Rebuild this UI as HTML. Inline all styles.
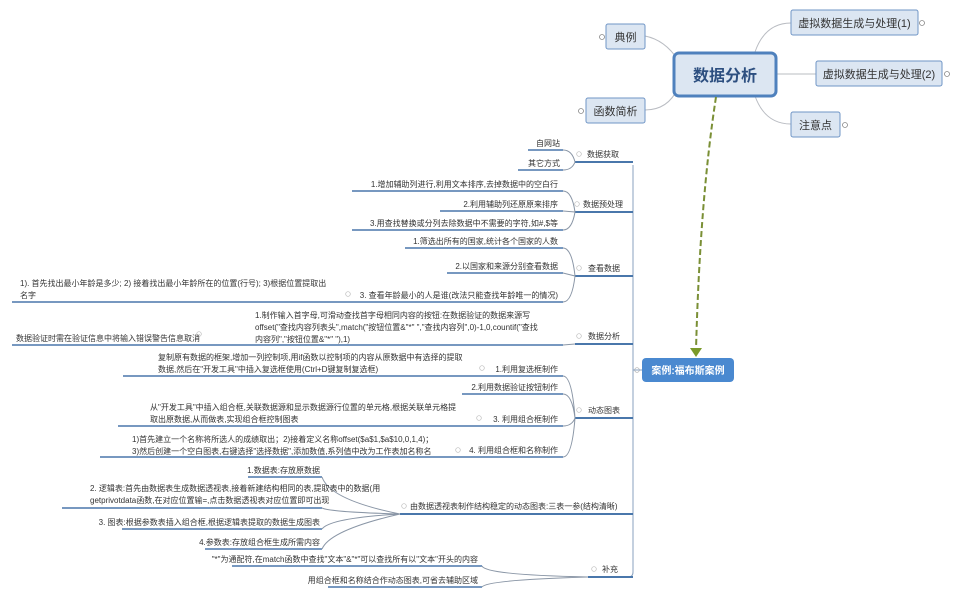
<!DOCTYPE html>
<html><head><meta charset="utf-8"><style>
html,body{margin:0;padding:0;background:#fff;width:960px;height:599px;overflow:hidden}
svg text{font-family:"Liberation Sans","Noto Sans CJK SC",sans-serif;fill:#333;font-size:8px}
</style></head><body>
<svg width="960" height="599" xmlns="http://www.w3.org/2000/svg">
<g fill="none" stroke="#b9bcc2" stroke-width="1">
<path d="M678 60 Q665 40 645 36"/>
<path d="M678 88 Q668 110 645 110"/>
<path d="M755 52 Q765 23 791 23"/>
<path d="M776 74 L816 74"/>
<path d="M755 96 Q765 124 791 124"/>
</g>
<rect x="674" y="53" width="102" height="43" rx="5" fill="#dce6f2" stroke="#4f81bd" stroke-width="3"/>
<text x="725" y="81" text-anchor="middle" style="font-size:16px;font-weight:bold;fill:#2d4f80">数据分析</text>
<rect x="606" y="24" width="39" height="25" rx="2" fill="#dce6f2" stroke="#6f95c6"/>
<text x="625.5" y="41" text-anchor="middle" style="font-size:11px">典例</text>
<rect x="586" y="98" width="59" height="25" rx="2" fill="#dce6f2" stroke="#6f95c6"/>
<text x="615.5" y="115" text-anchor="middle" style="font-size:11px">函数简析</text>
<rect x="791" y="10" width="127" height="25" rx="2" fill="#dce6f2" stroke="#6f95c6"/>
<text x="854.5" y="27" text-anchor="middle" style="font-size:11px">虚拟数据生成与处理(1)</text>
<rect x="816" y="61" width="126" height="25" rx="2" fill="#dce6f2" stroke="#6f95c6"/>
<text x="879" y="78" text-anchor="middle" style="font-size:11px">虚拟数据生成与处理(2)</text>
<rect x="791" y="112" width="49" height="25" rx="2" fill="#dce6f2" stroke="#6f95c6"/>
<text x="815.5" y="129" text-anchor="middle" style="font-size:11px">注意点</text>
<g fill="#fff" stroke="#888" stroke-width="0.8">
<circle cx="602" cy="37" r="2.5"/><circle cx="581" cy="111" r="2.5"/>
<circle cx="922" cy="23" r="2.5"/><circle cx="947" cy="74" r="2.5"/><circle cx="845" cy="125" r="2.5"/>
</g>
<path d="M716 97 Q700 200 696 350" fill="none" stroke="#7a8f35" stroke-width="2" stroke-dasharray="6,3"/>
<polygon points="690,348 702,348 696,357" fill="#7a9a2a"/>
<rect x="642" y="358" width="92" height="24" rx="4" fill="#4a89d0"/>
<text x="688" y="374" text-anchor="middle" style="font-size:10px;font-weight:bold;fill:#fff">案例:福布斯案例</text>
<circle cx="637" cy="370" r="2.3" fill="#fff" stroke="#aaa" stroke-width="0.7"/>
<path d="M633 165 L633 572 Q633 577 628 577 M633 370 L642 370" fill="none" stroke="#8aa2bf" stroke-width="1"/>
<g stroke="#4a77ab" stroke-width="2">
<line x1="575" y1="162" x2="633" y2="162"/>
<line x1="575" y1="212" x2="633" y2="212"/>
<line x1="575" y1="276" x2="633" y2="276"/>
<line x1="575" y1="344" x2="633" y2="344"/>
<line x1="575" y1="418" x2="633" y2="418"/>
<line x1="400" y1="514" x2="633" y2="514"/>
<line x1="588" y1="577" x2="633" y2="577"/>
</g>
<text x="587" y="157">数据获取</text>
<text x="583" y="207">数据预处理</text>
<text x="588" y="271">查看数据</text>
<text x="588" y="339">数据分析</text>
<text x="588" y="413">动态图表</text>
<text x="410" y="509">由数据透视表制作结构稳定的动态图表:三表一参(结构清晰)</text>
<text x="602" y="572">补充</text>
<g stroke="#4a77ab" stroke-width="1.5">
<line x1="528" y1="150" x2="563" y2="150"/>
<line x1="518" y1="170" x2="563" y2="170"/>
<line x1="352" y1="191" x2="563" y2="191"/>
<line x1="440" y1="211" x2="563" y2="211"/>
<line x1="352" y1="230" x2="563" y2="230"/>
<line x1="405" y1="248" x2="563" y2="248"/>
<line x1="447" y1="273" x2="563" y2="273"/>
<line x1="12" y1="302" x2="563" y2="302"/>
<line x1="12" y1="345" x2="563" y2="345"/>
<line x1="123" y1="376" x2="563" y2="376"/>
<line x1="462" y1="394" x2="563" y2="394"/>
<line x1="118" y1="426" x2="563" y2="426"/>
<line x1="100" y1="457" x2="563" y2="457"/>
<line x1="248" y1="477" x2="322" y2="477"/>
<line x1="62" y1="508" x2="322" y2="508"/>
<line x1="122" y1="529" x2="322" y2="529"/>
<line x1="205" y1="549" x2="322" y2="549"/>
<line x1="232" y1="566" x2="482" y2="566"/>
<line x1="328" y1="587" x2="482" y2="587"/>
</g>
<g fill="none" stroke="#8a96a6" stroke-width="1">
<path d="M575 162 Q572 150 563 150 M575 162 Q572 170 563 170"/>
<path d="M575 212 Q572 191 563 191 M575 212 L563 211 M575 212 Q572 230 563 230"/>
<path d="M575 276 Q572 248 563 248 M575 276 L563 273 M575 276 Q572 302 563 302"/>
<path d="M575 344 L563 345"/>
<path d="M575 418 Q572 376 563 376 M575 418 Q572 394 563 394 M575 418 Q572 426 563 426 M575 418 Q572 457 563 457"/>
<path d="M400 514 Q330 500 322 477 M400 514 Q330 512 322 508 M400 514 Q330 518 322 529 M400 514 Q330 530 322 549"/>
<path d="M588 577 Q486 575 482 566 M588 577 Q486 580 482 587"/>
</g>
<g fill="#fff" stroke="#bbb" stroke-width="0.7">
<circle cx="579" cy="154" r="2.3"/><circle cx="577" cy="204" r="2.3"/><circle cx="579" cy="268" r="2.3"/>
<circle cx="579" cy="336" r="2.3"/><circle cx="579" cy="410" r="2.3"/><circle cx="404" cy="506" r="2.3"/>
<circle cx="594" cy="569" r="2.3"/><circle cx="348" cy="294" r="2.3"/><circle cx="199" cy="334" r="2.3"/>
<circle cx="482" cy="368" r="2.3"/><circle cx="479" cy="418" r="2.3"/><circle cx="458" cy="450" r="2.3"/>
</g>
<g text-anchor="end">
<text x="560" y="146">自网站</text>
<text x="560" y="166">其它方式</text>
<text x="558" y="187">1.增加辅助列进行,利用文本排序,去掉数据中的空白行</text>
<text x="558" y="207">2.利用辅助列还原原来排序</text>
<text x="558" y="226">3.用查找替换或分列去除数据中不需要的字符,如#,$等</text>
<text x="558" y="244">1.筛选出所有的国家,统计各个国家的人数</text>
<text x="558" y="269">2.以国家和来源分别查看数据</text>
<text x="558" y="298">3. 查看年龄最小的人是谁(改法只能查找年龄唯一的情况)</text>
<text x="558" y="372">1.利用复选框制作</text>
<text x="558" y="390">2.利用数据验证按钮制作</text>
<text x="558" y="422">3. 利用组合框制作</text>
<text x="558" y="453">4. 利用组合框和名称制作</text>
<text x="320" y="473">1.数据表:存放原数据</text>
<text x="320" y="525">3. 图表:根据参数表插入组合框,根据逻辑表提取的数据生成图表</text>
<text x="320" y="545">4.参数表:存放组合框生成所需内容</text>
<text x="478" y="562">"*"为通配符,在match函数中查找"文本"&amp;"*"可以查找所有以"文本"开头的内容</text>
<text x="478" y="583">用组合框和名称结合作动态图表,可省去辅助区域</text>
</g>
<text x="20" y="286">1). 首先找出最小年龄是多少; 2) 接着找出最小年龄所在的位置(行号); 3)根据位置提取出</text>
<text x="20" y="298">名字</text>
<text x="255" y="318">1.制作输入首字母,可滑动查找首字母相同内容的按钮:在数据验证的数据来源写</text>
<text x="255" y="330">offset("查找内容列表头",match("按钮位置&amp;"*" ","查找内容列",0)-1,0,countif("查找</text>
<text x="255" y="342">内容列","按钮位置&amp;"*" "),1)</text>
<text x="16" y="341">数据验证时需在验证信息中将输入错误警告信息取消</text>
<text x="158" y="360">复制原有数据的框架,增加一列控制项,用if函数以控制项的内容从原数据中有选择的提取</text>
<text x="158" y="372">数据,然后在"开发工具"中插入复选框使用(Ctrl+D键复制复选框)</text>
<text x="150" y="410">从"开发工具"中插入组合框,关联数据源和显示数据源行位置的单元格,根据关联单元格提</text>
<text x="150" y="422">取出原数据,从而做表,实现组合框控制图表</text>
<text x="132" y="442">1)首先建立一个名称将所选人的成绩取出；2)接着定义名称offset($a$1,$a$10,0,1,4)；</text>
<text x="132" y="454">3)然后创建一个空白图表,右键选择"选择数据",添加数值,系列值中改为工作表加名称名</text>
<text x="90" y="491">2. 逻辑表:首先由数据表生成数据透视表,接着新建结构相同的表,提取表中的数据(用</text>
<text x="90" y="503">getprivotdata函数,在对应位置输=,点击数据透视表对应位置即可出现</text>
</svg>
</body></html>
